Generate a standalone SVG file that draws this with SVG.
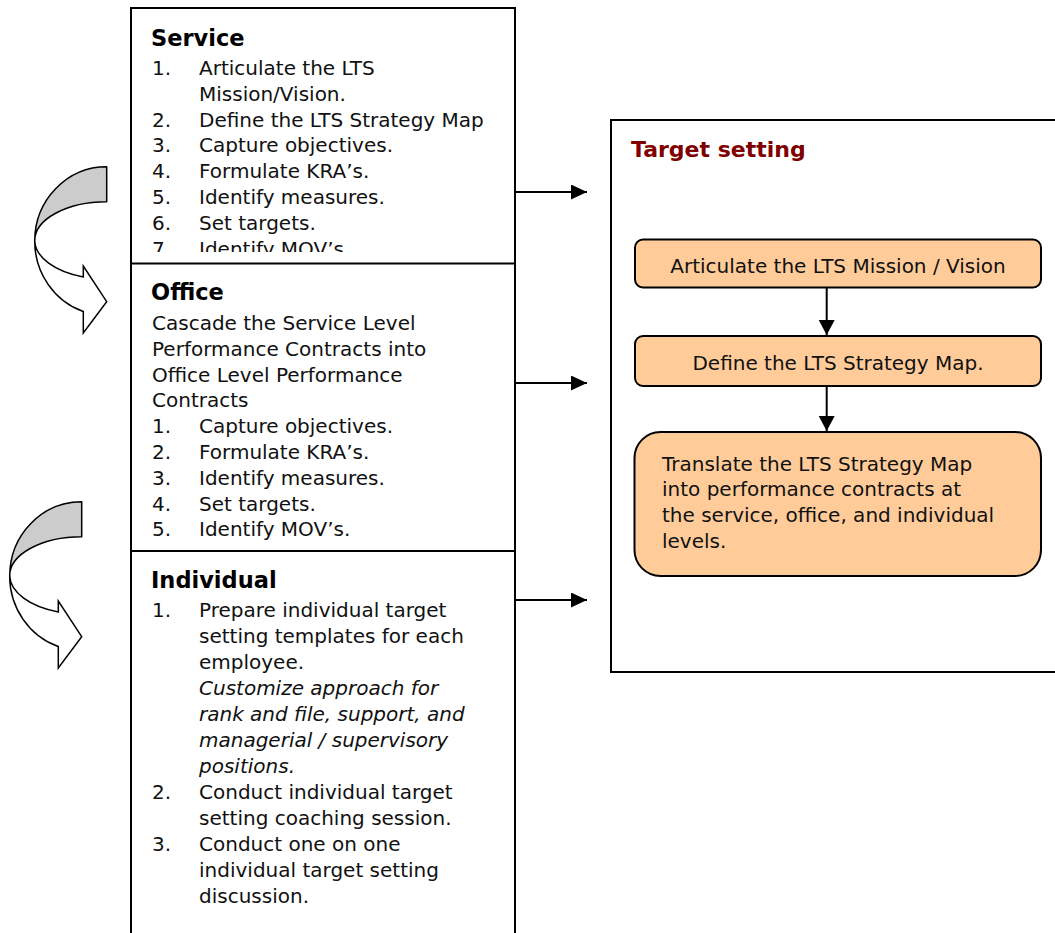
<svg xmlns="http://www.w3.org/2000/svg" xmlns:xlink="http://www.w3.org/1999/xlink" width="1055" height="933" viewBox="0 0 1055 933">
  <style>
    .frame { fill: #ffffff; stroke: #000000; stroke-width: 2; }
    .divider { stroke: #000000; stroke-width: 2; }
    .step { fill: #ffcc99; stroke: #000000; stroke-width: 2; }
    .link { stroke: #000000; stroke-width: 2; fill: none; }
    .body { font-family: "DejaVu Sans", "Liberation Sans", sans-serif; font-size: 20px; fill: #111111; }
    .head { font-family: "DejaVu Sans", "Liberation Sans", sans-serif; font-size: 22.5px; font-weight: bold; fill: #000000; }
    .title { font-family: "DejaVu Sans", "Liberation Sans", sans-serif; font-size: 22px; font-weight: bold; fill: #800000; }
    .note { font-style: italic; }
    .band { fill: #cccccc; stroke: #000000; stroke-width: 1.5; stroke-linejoin: round; }
    .sweep { fill: #ffffff; stroke: #000000; stroke-width: 1.5; stroke-linejoin: miter; }
  </style>
  <defs>
    <marker id="head-h" markerUnits="userSpaceOnUse" markerWidth="16" markerHeight="16" refX="16" refY="7.5" orient="auto">
      <path d="M0,0 L16,7.5 L0,15 Z" fill="#000000"/>
    </marker>
    <marker id="head-v" markerUnits="userSpaceOnUse" markerWidth="16" markerHeight="17" refX="15" refY="8" orient="auto">
      <path d="M0,0 L15,8 L0,16 Z" fill="#000000"/>
    </marker>
    <clipPath id="service-clip">
      <rect x="131" y="8" width="384" height="244"/>
    </clipPath>
    <!-- curved ribbon arrow: shaded back band on top, white front with head -->
    <g id="curl">
      <path class="sweep" d="M34.7,241 A72,74.5 0 0 0 83.3,311.5 L83.3,333 L106.7,301.7 L83.3,266 L83.3,276.9 A72,39 0 0 1 34.7,241 Z"/>
      <path class="band" d="M106.7,166.7 A72,74.5 0 0 0 34.7,241 A72,39 0 0 1 106.7,201.7 Z"/>
    </g>
  </defs>

  <rect width="1055" height="933" fill="#ffffff"/>

  <!-- left column of levels -->
  <g id="levels">
    <rect class="frame" x="131" y="8" width="384" height="940"/>
    <line class="divider" x1="131" y1="263.5" x2="515" y2="263.5"/>
    <line class="divider" x1="131" y1="551" x2="515" y2="551"/>
  </g>

  <g id="service">
    <text class="head" x="151" y="46">Service</text>
    <g class="body" clip-path="url(#service-clip)">
      <text x="152" y="75">1.</text><text x="199" y="75">Articulate the LTS</text>
      <text x="199" y="100.8">Mission/Vision.</text>
      <text x="152" y="126.6">2.</text><text x="199" y="126.6">Define the LTS Strategy Map</text>
      <text x="152" y="152.4">3.</text><text x="199" y="152.4">Capture objectives.</text>
      <text x="152" y="178.2">4.</text><text x="199" y="178.2">Formulate KRA’s.</text>
      <text x="152" y="204">5.</text><text x="199" y="204">Identify measures.</text>
      <text x="152" y="229.8">6.</text><text x="199" y="229.8">Set targets.</text>
      <text x="152" y="255.6">7.</text><text x="199" y="255.6">Identify MOV’s.</text>
    </g>
  </g>

  <g id="office">
    <text class="head" x="151" y="300">Office</text>
    <g class="body">
      <text x="152" y="330">Cascade the Service Level</text>
      <text x="152" y="355.8">Performance Contracts into</text>
      <text x="152" y="381.6">Office Level Performance</text>
      <text x="152" y="407.4">Contracts</text>
      <text x="152" y="433.2">1.</text><text x="199" y="433.2">Capture objectives.</text>
      <text x="152" y="459">2.</text><text x="199" y="459">Formulate KRA’s.</text>
      <text x="152" y="484.8">3.</text><text x="199" y="484.8">Identify measures.</text>
      <text x="152" y="510.6">4.</text><text x="199" y="510.6">Set targets.</text>
      <text x="152" y="536.4">5.</text><text x="199" y="536.4">Identify MOV’s.</text>
    </g>
  </g>

  <g id="individual">
    <text class="head" x="151" y="588">Individual</text>
    <g class="body">
      <text x="152" y="616.7">1.</text><text x="199" y="616.7">Prepare individual target</text>
      <text x="199" y="642.7">setting templates for each</text>
      <text x="199" y="668.7">employee.</text>
      <text class="note" x="199" y="694.7">Customize approach for</text>
      <text class="note" x="199" y="720.7">rank and file, support, and</text>
      <text class="note" x="199" y="746.7">managerial / supervisory</text>
      <text class="note" x="199" y="772.7">positions.</text>
      <text x="152" y="798.7">2.</text><text x="199" y="798.7">Conduct individual target</text>
      <text x="199" y="824.7">setting coaching session.</text>
      <text x="152" y="850.7">3.</text><text x="199" y="850.7">Conduct one on one</text>
      <text x="199" y="876.7">individual target setting</text>
      <text x="199" y="902.7">discussion.</text>
    </g>
  </g>

  <!-- curved arrows between levels -->
  <g id="curl-service-office">
    <use xlink:href="#curl" href="#curl"/>
  </g>
  <g id="curl-office-individual">
    <use xlink:href="#curl" href="#curl" transform="translate(-25,335)"/>
  </g>

  <!-- target setting panel -->
  <g id="target-panel">
    <rect class="frame" x="611" y="120" width="470" height="552"/>
    <text class="title" x="631" y="157">Target setting</text>
  </g>

  <g id="step-mission">
    <rect class="step" x="635" y="239.5" width="406" height="48" rx="8"/>
    <text class="body" x="838" y="273" text-anchor="middle">Articulate the LTS Mission / Vision</text>
  </g>

  <g id="step-map">
    <rect class="step" x="635" y="336" width="406" height="50" rx="8"/>
    <text class="body" x="838" y="370" text-anchor="middle">Define the LTS Strategy Map.</text>
  </g>

  <g id="step-translate">
    <rect class="step" x="634.5" y="432" width="406.5" height="144" rx="26"/>
    <g class="body">
      <text x="662" y="470.7">Translate the LTS Strategy Map</text>
      <text x="662" y="496.4">into performance contracts at</text>
      <text x="662" y="522.1">the service, office, and individual</text>
      <text x="662" y="547.8">levels.</text>
    </g>
  </g>

  <!-- connectors -->
  <g id="connectors">
    <line class="link" x1="516" y1="192" x2="587" y2="192" marker-end="url(#head-h)"/>
    <line class="link" x1="516" y1="383" x2="587" y2="383" marker-end="url(#head-h)"/>
    <line class="link" x1="516" y1="600" x2="587" y2="600" marker-end="url(#head-h)"/>
    <line class="link" x1="826.7" y1="288" x2="826.7" y2="335" marker-end="url(#head-v)"/>
    <line class="link" x1="826.7" y1="386" x2="826.7" y2="431" marker-end="url(#head-v)"/>
  </g>
</svg>
